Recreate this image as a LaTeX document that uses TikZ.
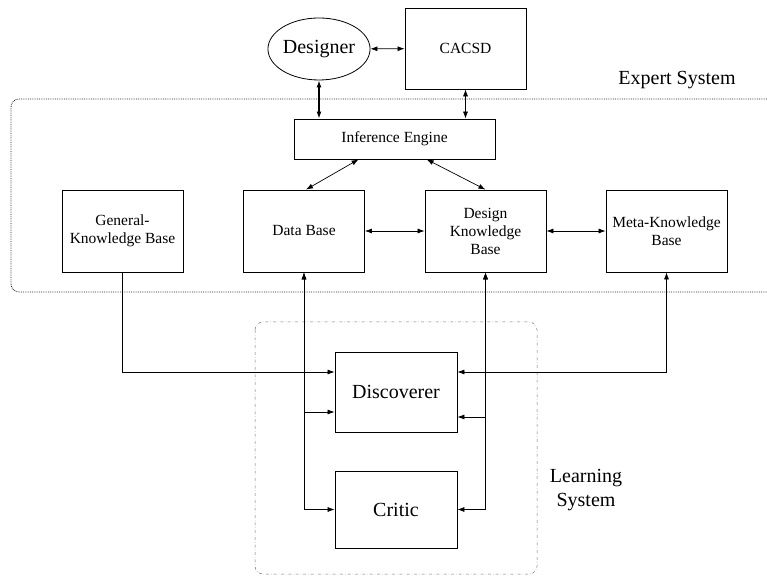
\documentclass[tikz,border=0pt]{standalone}
\usepackage{fontspec}
\setmainfont{Liberation Serif}
\usetikzlibrary{
    arrows.meta,
    positioning,
    calc,
    shapes.geometric
}
\tikzset{
    % --- Knowledge block (rectangle) ---
    block/.style = {
        rectangle, draw, line width=0.8pt,
        minimum width=121pt, minimum height=82pt,
        font=\fontsize{15.5}{18}\selectfont, align=center,
        inner sep=2pt
    },
    % --- Large block (learning system parts) ---
    big block/.style = {
        block, font=\fontsize{20}{24}\selectfont
    },
    % --- User ellipse ---
    user/.style = {
        ellipse, draw, line width=0.8pt,
        minimum width=98pt, minimum height=62pt,
        font=\fontsize{20}{24}\selectfont, inner sep=0pt
    },
    % --- System label ---
    sys label/.style = {
        font=\fontsize{20}{24}\selectfont, align=center
    },
    % --- Expert system border ---
    expert border/.style = {
        densely dotted, line width=0.8pt, black!85,
        rounded corners=8pt
    },
    % --- Learning system border ---
    learn border/.style = {
        dash dot, line width=0.5pt, black!55,
        rounded corners=8pt
    },
    % --- Link arrow ---
    link/.style = {
        {Latex[length=7pt,width=5pt]}-{Latex[length=7pt,width=5pt]},
        line width=0.7pt
    },
    feed/.style = {
        -{Latex[length=7pt,width=5pt]}, line width=0.7pt
    }
}

\begin{document}
\begin{tikzpicture}[x=1pt, y=1pt]

\useasboundingbox (0,0) rectangle (767,575);

% ---------------------------------------------------------
% System borders
% ---------------------------------------------------------
\draw[expert border] (767,476) -- (11,476) -- (11,283) -- (767,283);
\draw[learn border] (255,253) rectangle (537,1);

\node[sys label] (ExpertLbl) at (677,495) {Expert System};
\node[sys label] (LearnLbl) at (586,85) {Learning\\System};

% ---------------------------------------------------------
% Designer and CACSD
% ---------------------------------------------------------
\node[user] (Designer) at (319,526) {Designer};
\node[block, minimum height=81pt] (CACSD) at (465.5,526.5) {CACSD};
\draw[link] (Designer) -- (CACSD);

% ---------------------------------------------------------
% Inference engine
% ---------------------------------------------------------
\node[block, minimum width=201pt, minimum height=40pt] (Infer) at (394.5,436) {Inference Engine};
\draw[link, line width=1.3pt] (Designer.south) -- (Designer.south |- Infer.north);
\draw[link] (CACSD.south) -- (CACSD.south |- Infer.north);

% ---------------------------------------------------------
% Knowledge bases
% ---------------------------------------------------------
\node[block] (GKB)  at (122.5,344) {General-\\Knowledge Base};
\node[block] (DB)   at (304,344)   {Data Base};
\node[block] (DKB)  at (485.5,344) {Design\\Knowledge\\Base};
\node[block] (Meta) at (666.5,344) {Meta-Knowledge\\Base};

\draw[link] ($(Infer.south west)+(65,0)$) -- ($(DB.north)+(2,0)$);
\draw[link] ($(Infer.south west)+(133,0)$) -- (DKB.north);
\draw[link] (DB) -- (DKB);
\draw[link] (DKB) -- (Meta);

% ---------------------------------------------------------
% Learning system
% ---------------------------------------------------------
\node[big block, minimum width=122pt, minimum height=80pt] (Disc) at (396,183) {Discoverer};
\node[big block, minimum width=122pt, minimum height=77pt] (Critic) at (396,65.5) {Critic};

\draw[feed] (GKB.south) |- ($(Disc.west)+(0,20)$);
\draw[link] (DB.south) |- ($(Disc.west)+(0,-20)$);
\draw[link] (DB.south) |- (Critic.west);
\draw[link] (DKB.south) |- ($(Disc.east)+(0,-25)$);
\draw[link] (DKB.south) |- (Critic.east);
\draw[link] (Meta.south) |- ($(Disc.east)+(0,20)$);

\end{tikzpicture}
\end{document}
